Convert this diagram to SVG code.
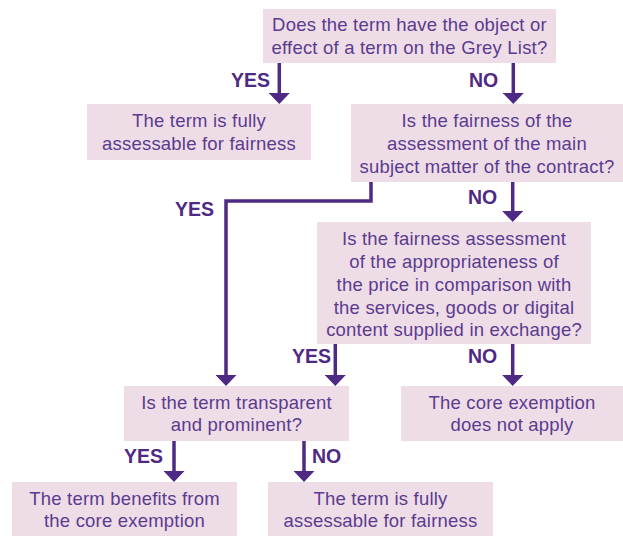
<svg xmlns="http://www.w3.org/2000/svg" width="623" height="536" viewBox="0 0 623 536">
<style>
.box{fill:#EEDDE7;stroke:none}
.t{font-family:"Liberation Sans",Arial,sans-serif;font-size:18.5px;letter-spacing:0.2px;fill:#5B3B8F;text-anchor:middle}
.lab{font-family:"Liberation Sans",Arial,sans-serif;font-size:19.5px;font-weight:bold;fill:#4E2A84}
.c{fill:none;stroke:#4E2A84;stroke-width:3.5;stroke-linejoin:miter}
</style>
<defs>
<marker id="ah" viewBox="0 0 11 21" refX="0" refY="10.5" markerWidth="11" markerHeight="21" markerUnits="userSpaceOnUse" orient="auto">
<path d="M0,0 L11,10.5 L0,21 Z" fill="#4E2A84"/>
</marker>
</defs>
<rect width="623" height="536" fill="#FFFFFF"/>
<g id="q1">
<rect class="box" x="263" y="9" width="293" height="54"/>
<text class="t" x="409.5" y="31">Does the term have the object or</text>
<text class="t" x="409.5" y="53.5">effect of a term on the Grey List?</text>
</g>
<g id="r1">
<rect class="box" x="87" y="104" width="224" height="56"/>
<text class="t" x="199" y="127">The term is fully</text>
<text class="t" x="199" y="150">assessable for fairness</text>
</g>
<g id="q2">
<rect class="box" x="351" y="104" width="272" height="78"/>
<text class="t" x="487" y="127">Is the fairness of the</text>
<text class="t" x="487" y="150">assessment of the main</text>
<text class="t" x="487" y="173">subject matter of the contract?</text>
</g>
<g id="q3">
<rect class="box" x="317" y="222" width="274" height="122"/>
<text class="t" x="454" y="245">Is the fairness assessment</text>
<text class="t" x="454" y="268">of the appropriateness of</text>
<text class="t" x="454" y="291">the price in comparison with</text>
<text class="t" x="454" y="314">the services, goods or digital</text>
<text class="t" x="454" y="336">content supplied in exchange?</text>
</g>
<g id="q4">
<rect class="box" x="124" y="386" width="225" height="55"/>
<text class="t" x="236.5" y="408.5">Is the term transparent</text>
<text class="t" x="236.5" y="431">and prominent?</text>
</g>
<g id="r2">
<rect class="box" x="401" y="386" width="222" height="55"/>
<text class="t" x="512" y="408.5">The core exemption</text>
<text class="t" x="512" y="431">does not apply</text>
</g>
<g id="r3">
<rect class="box" x="12" y="482" width="225" height="54"/>
<text class="t" x="124.5" y="504.5">The term benefits from</text>
<text class="t" x="124.5" y="527">the core exemption</text>
</g>
<g id="r4">
<rect class="box" x="268" y="482" width="225" height="54"/>
<text class="t" x="380.5" y="504.5">The term is fully</text>
<text class="t" x="380.5" y="527">assessable for fairness</text>
</g>
<g id="connectors">
<path class="c" d="M279.3,63 V93" marker-end="url(#ah)"/>
<path class="c" d="M513.3,63 V93" marker-end="url(#ah)"/>
<path class="c" d="M512.7,182 V211" marker-end="url(#ah)"/>
<path class="c" d="M371,182 V201 H226 V375" marker-end="url(#ah)"/>
<path class="c" d="M335.3,344 V375" marker-end="url(#ah)"/>
<path class="c" d="M512.7,344 V375" marker-end="url(#ah)"/>
<path class="c" d="M174,441 V471" marker-end="url(#ah)"/>
<path class="c" d="M304,441 V471" marker-end="url(#ah)"/>
<text class="lab" x="270" y="87" text-anchor="end">YES</text>
<text class="lab" x="469" y="87">NO</text>
<text class="lab" x="214" y="216" text-anchor="end">YES</text>
<text class="lab" x="468" y="204">NO</text>
<text class="lab" x="331" y="363" text-anchor="end">YES</text>
<text class="lab" x="468" y="363">NO</text>
<text class="lab" x="163" y="463" text-anchor="end">YES</text>
<text class="lab" x="312" y="463">NO</text>
</g>
</svg>
